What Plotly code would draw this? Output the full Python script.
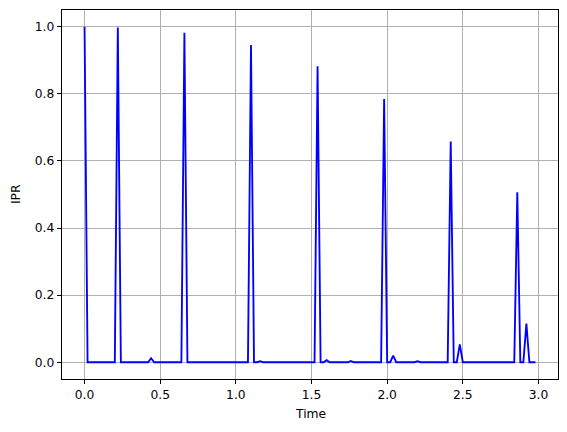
import plotly.graph_objects as go

time = [0.00, 0.02, 0.04, 0.06, 0.08, 0.10, 0.12, 0.14, 0.16, 0.18,
        0.20, 0.22, 0.24, 0.26, 0.28, 0.30, 0.32, 0.34, 0.36, 0.38,
        0.40, 0.42, 0.44, 0.46, 0.48, 0.50, 0.52, 0.54, 0.56, 0.58,
        0.60, 0.62, 0.64, 0.66, 0.68, 0.70, 0.72, 0.74, 0.76, 0.78,
        0.80, 0.82, 0.84, 0.86, 0.88, 0.90, 0.92, 0.94, 0.96, 0.98,
        1.00, 1.02, 1.04, 1.06, 1.08, 1.10, 1.12, 1.14, 1.16, 1.18,
        1.20, 1.22, 1.24, 1.26, 1.28, 1.30, 1.32, 1.34, 1.36, 1.38,
        1.40, 1.42, 1.44, 1.46, 1.48, 1.50, 1.52, 1.54, 1.56, 1.58,
        1.60, 1.62, 1.64, 1.66, 1.68, 1.70, 1.72, 1.74, 1.76, 1.78,
        1.80, 1.82, 1.84, 1.86, 1.88, 1.90, 1.92, 1.94, 1.96, 1.98,
        2.00, 2.02, 2.04, 2.06, 2.08, 2.10, 2.12, 2.14, 2.16, 2.18,
        2.20, 2.22, 2.24, 2.26, 2.28, 2.30, 2.32, 2.34, 2.36, 2.38,
        2.40, 2.42, 2.44, 2.46, 2.48, 2.50, 2.52, 2.54, 2.56, 2.58,
        2.60, 2.62, 2.64, 2.66, 2.68, 2.70, 2.72, 2.74, 2.76, 2.78,
        2.80, 2.82, 2.84, 2.86, 2.88, 2.90, 2.92, 2.94, 2.96, 2.98]

ipr = [1.000, 0.000, 0.000, 0.000, 0.000, 0.000, 0.000, 0.000, 0.000, 0.000,
       0.000, 0.998, 0.000, 0.000, 0.000, 0.000, 0.000, 0.000, 0.000, 0.000,
       0.000, 0.000, 0.012, 0.000, 0.000, 0.000, 0.000, 0.000, 0.000, 0.000,
       0.000, 0.000, 0.000, 0.982, 0.000, 0.000, 0.000, 0.000, 0.000, 0.000,
       0.000, 0.000, 0.000, 0.000, 0.001, 0.000, 0.000, 0.000, 0.000, 0.000,
       0.000, 0.000, 0.000, 0.000, 0.000, 0.946, 0.000, 0.000, 0.003, 0.000,
       0.000, 0.000, 0.000, 0.000, 0.000, 0.000, 0.001, 0.000, 0.000, 0.000,
       0.000, 0.000, 0.000, 0.000, 0.000, 0.000, 0.000, 0.882, 0.000, 0.000,
       0.006, 0.000, 0.000, 0.000, 0.000, 0.000, 0.000, 0.000, 0.004, 0.000,
       0.000, 0.000, 0.000, 0.000, 0.000, 0.000, 0.000, 0.000, 0.000, 0.785,
       0.000, 0.000, 0.020, 0.000, 0.000, 0.000, 0.000, 0.000, 0.000, 0.000,
       0.003, 0.000, 0.000, 0.000, 0.000, 0.000, 0.000, 0.000, 0.000, 0.000,
       0.000, 0.658, 0.000, 0.000, 0.053, 0.000, 0.000, 0.000, 0.000, 0.000,
       0.000, 0.000, 0.001, 0.000, 0.000, 0.000, 0.000, 0.000, 0.000, 0.000,
       0.000, 0.000, 0.000, 0.507, 0.000, 0.000, 0.115, 0.000, 0.000, 0.000]

x_ticks = [0.0, 0.5, 1.0, 1.5, 2.0, 2.5, 3.0]
x_tick_labels = ["0.0", "0.5", "1.0", "1.5", "2.0", "2.5", "3.0"]
y_ticks = [0.0, 0.2, 0.4, 0.6, 0.8, 1.0]
y_tick_labels = ["0.0", "0.2", "0.4", "0.6", "0.8", "1.0"]

W, H = 567, 432
L, R, T, B = 61.5, 9.3, 9.5, 53
FONT = "DejaVu Sans"
FS = 12.3

fig = go.Figure()
fig.add_trace(go.Scatter(x=time, y=ipr, mode="lines",
                         line=dict(color="blue", width=1.85), showlegend=False))

xspan = max(time) - min(time)
yspan = max(ipr) - min(ipr)
axis_common = dict(showgrid=True, gridcolor="#b0b0b0", gridwidth=1,
                   showline=True, linecolor="black", linewidth=1, mirror=True,
                   ticks="outside", ticklen=4.3, tickwidth=1, tickcolor="black",
                   zeroline=False, automargin=False,
                   tickfont=dict(family=FONT, size=FS, color="black"))

fig.update_layout(
    width=W, height=H,
    margin=dict(l=L, r=R, t=T, b=B, pad=0, autoexpand=False),
    paper_bgcolor="white", plot_bgcolor="white",
    font=dict(family=FONT, size=FS, color="black"),
    xaxis=dict(range=[min(time) - 0.05 * xspan, max(time) + 0.05 * xspan],
               tickvals=x_ticks, ticktext=x_tick_labels, **axis_common),
    yaxis=dict(range=[min(ipr) - 0.05 * yspan, max(ipr) + 0.05 * yspan],
               tickvals=y_ticks, ticktext=y_tick_labels, **axis_common),
)

ph = H - T - B
fig.add_annotation(text="Time", xref="paper", yref="paper", x=0.5,
                   y=(H - B - 414) / ph, xanchor="center", yanchor="middle",
                   showarrow=False, font=dict(family=FONT, size=FS, color="black"))
fig.add_annotation(text="IPR", xref="paper", yref="paper",
                   x=(15 - L) / (W - L - R), y=0.5, textangle=-90,
                   xanchor="center", yanchor="middle",
                   showarrow=False, font=dict(family=FONT, size=FS, color="black"))

fig.write_html("out.html", config={"displayModeBar": False},
               post_script="document.body.style.margin='0';document.body.style.overflow='hidden';")
